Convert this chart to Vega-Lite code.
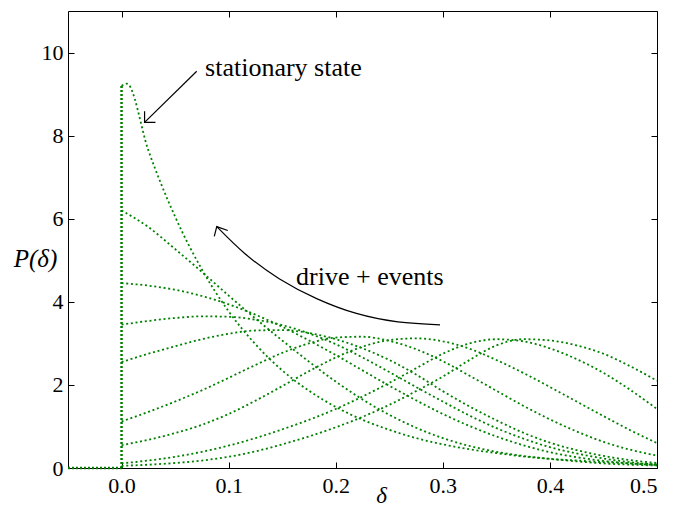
{
  "$schema": "https://vega.github.io/schema/vega-lite/v6.json",
  "width": 589,
  "height": 457,
  "autosize": "none",
  "padding": {"left": 68, "top": 11, "right": 29, "bottom": 40},
  "background": "white",
  "config": {
    "view": {"stroke": "black", "strokeWidth": 1},
    "axis": {
      "labelFont": "Liberation Serif, Times New Roman, DejaVu Serif, serif", "labelFontSize": 22, "labelColor": "black",
      "tickColor": "black", "tickSize": -6, "tickWidth": 1, "domain": false, "grid": false,
      "titleFont": "Liberation Serif, Times New Roman, DejaVu Serif, serif", "titleFontStyle": "italic", "titleFontWeight": "normal",
      "titleFontSize": 25, "titleColor": "black"
    }
  },
  "datasets": {
    "curves": [
      {"c":1,"x":0,"y":9.2},{"c":1,"x":0.005,"y":9.25},{"c":1,"x":0.025,"y":7.65},{"c":1,"x":0.05,"y":6.05},{"c":1,"x":0.075,"y":4.78},{"c":1,"x":0.1,"y":3.77},{"c":1,"x":0.125,"y":2.98},{"c":1,"x":0.15,"y":2.35},{"c":1,"x":0.175,"y":1.86},{"c":1,"x":0.2,"y":1.47},{"c":1,"x":0.225,"y":1.16},{"c":1,"x":0.25,"y":0.92},{"c":1,"x":0.275,"y":0.72},{"c":1,"x":0.3,"y":0.57},{"c":1,"x":0.325,"y":0.45},{"c":1,"x":0.35,"y":0.36},{"c":1,"x":0.375,"y":0.28},{"c":1,"x":0.4,"y":0.22},{"c":1,"x":0.425,"y":0.18},{"c":1,"x":0.45,"y":0.14},{"c":1,"x":0.475,"y":0.11},{"c":1,"x":0.5,"y":0.09},
      {"c":2,"x":0,"y":6.2},{"c":2,"x":0.025,"y":5.8},{"c":2,"x":0.05,"y":5.27},{"c":2,"x":0.075,"y":4.72},{"c":2,"x":0.1,"y":4.15},{"c":2,"x":0.125,"y":3.6},{"c":2,"x":0.15,"y":3.07},{"c":2,"x":0.175,"y":2.56},{"c":2,"x":0.2,"y":2.08},{"c":2,"x":0.225,"y":1.65},{"c":2,"x":0.25,"y":1.28},{"c":2,"x":0.275,"y":0.97},{"c":2,"x":0.3,"y":0.72},{"c":2,"x":0.325,"y":0.53},{"c":2,"x":0.35,"y":0.39},{"c":2,"x":0.375,"y":0.29},{"c":2,"x":0.4,"y":0.22},{"c":2,"x":0.425,"y":0.16},{"c":2,"x":0.45,"y":0.11},{"c":2,"x":0.475,"y":0.08},{"c":2,"x":0.5,"y":0.06},
      {"c":3,"x":0,"y":4.45},{"c":3,"x":0.025,"y":4.39},{"c":3,"x":0.05,"y":4.29},{"c":3,"x":0.075,"y":4.14},{"c":3,"x":0.1,"y":3.94},{"c":3,"x":0.125,"y":3.69},{"c":3,"x":0.15,"y":3.4},{"c":3,"x":0.175,"y":3.07},{"c":3,"x":0.2,"y":2.72},{"c":3,"x":0.225,"y":2.35},{"c":3,"x":0.25,"y":1.98},{"c":3,"x":0.275,"y":1.63},{"c":3,"x":0.3,"y":1.3},{"c":3,"x":0.325,"y":1.01},{"c":3,"x":0.35,"y":0.76},{"c":3,"x":0.375,"y":0.55},{"c":3,"x":0.4,"y":0.38},{"c":3,"x":0.425,"y":0.26},{"c":3,"x":0.45,"y":0.17},{"c":3,"x":0.475,"y":0.11},{"c":3,"x":0.5,"y":0.07},
      {"c":4,"x":0,"y":3.45},{"c":4,"x":0.025,"y":3.54},{"c":4,"x":0.05,"y":3.61},{"c":4,"x":0.075,"y":3.65},{"c":4,"x":0.1,"y":3.64},{"c":4,"x":0.125,"y":3.57},{"c":4,"x":0.15,"y":3.44},{"c":4,"x":0.175,"y":3.24},{"c":4,"x":0.2,"y":2.98},{"c":4,"x":0.225,"y":2.66},{"c":4,"x":0.25,"y":2.31},{"c":4,"x":0.275,"y":1.95},{"c":4,"x":0.3,"y":1.6},{"c":4,"x":0.325,"y":1.26},{"c":4,"x":0.35,"y":0.96},{"c":4,"x":0.375,"y":0.71},{"c":4,"x":0.4,"y":0.5},{"c":4,"x":0.425,"y":0.35},{"c":4,"x":0.45,"y":0.23},{"c":4,"x":0.475,"y":0.14},{"c":4,"x":0.5,"y":0.08},
      {"c":5,"x":0,"y":2.55},{"c":5,"x":0.025,"y":2.75},{"c":5,"x":0.05,"y":2.93},{"c":5,"x":0.075,"y":3.1},{"c":5,"x":0.1,"y":3.23},{"c":5,"x":0.125,"y":3.31},{"c":5,"x":0.15,"y":3.32},{"c":5,"x":0.175,"y":3.25},{"c":5,"x":0.2,"y":3.1},{"c":5,"x":0.225,"y":2.88},{"c":5,"x":0.25,"y":2.6},{"c":5,"x":0.275,"y":2.25},{"c":5,"x":0.3,"y":1.85},{"c":5,"x":0.325,"y":1.48},{"c":5,"x":0.35,"y":1.15},{"c":5,"x":0.375,"y":0.85},{"c":5,"x":0.4,"y":0.61},{"c":5,"x":0.425,"y":0.43},{"c":5,"x":0.45,"y":0.29},{"c":5,"x":0.475,"y":0.19},{"c":5,"x":0.5,"y":0.12},
      {"c":6,"x":0,"y":1.12},{"c":6,"x":0.025,"y":1.35},{"c":6,"x":0.05,"y":1.6},{"c":6,"x":0.075,"y":1.87},{"c":6,"x":0.1,"y":2.17},{"c":6,"x":0.125,"y":2.48},{"c":6,"x":0.15,"y":2.77},{"c":6,"x":0.175,"y":3.0},{"c":6,"x":0.2,"y":3.14},{"c":6,"x":0.225,"y":3.16},{"c":6,"x":0.25,"y":3.06},{"c":6,"x":0.275,"y":2.86},{"c":6,"x":0.3,"y":2.57},{"c":6,"x":0.325,"y":2.22},{"c":6,"x":0.35,"y":1.86},{"c":6,"x":0.375,"y":1.5},{"c":6,"x":0.4,"y":1.17},{"c":6,"x":0.425,"y":0.88},{"c":6,"x":0.45,"y":0.63},{"c":6,"x":0.475,"y":0.44},{"c":6,"x":0.5,"y":0.3},
      {"c":7,"x":0,"y":0.55},{"c":7,"x":0.025,"y":0.68},{"c":7,"x":0.05,"y":0.84},{"c":7,"x":0.075,"y":1.04},{"c":7,"x":0.1,"y":1.3},{"c":7,"x":0.125,"y":1.62},{"c":7,"x":0.15,"y":1.97},{"c":7,"x":0.175,"y":2.33},{"c":7,"x":0.2,"y":2.66},{"c":7,"x":0.225,"y":2.92},{"c":7,"x":0.25,"y":3.08},{"c":7,"x":0.275,"y":3.12},{"c":7,"x":0.3,"y":3.05},{"c":7,"x":0.325,"y":2.87},{"c":7,"x":0.35,"y":2.6},{"c":7,"x":0.375,"y":2.29},{"c":7,"x":0.4,"y":1.95},{"c":7,"x":0.425,"y":1.6},{"c":7,"x":0.45,"y":1.25},{"c":7,"x":0.475,"y":0.91},{"c":7,"x":0.5,"y":0.6},
      {"c":8,"x":0,"y":0.11},{"c":8,"x":0.025,"y":0.18},{"c":8,"x":0.05,"y":0.27},{"c":8,"x":0.075,"y":0.39},{"c":8,"x":0.1,"y":0.54},{"c":8,"x":0.125,"y":0.72},{"c":8,"x":0.15,"y":0.93},{"c":8,"x":0.175,"y":1.16},{"c":8,"x":0.2,"y":1.42},{"c":8,"x":0.225,"y":1.72},{"c":8,"x":0.25,"y":2.05},{"c":8,"x":0.275,"y":2.4},{"c":8,"x":0.3,"y":2.75},{"c":8,"x":0.325,"y":3.0},{"c":8,"x":0.35,"y":3.1},{"c":8,"x":0.375,"y":3.05},{"c":8,"x":0.4,"y":2.88},{"c":8,"x":0.425,"y":2.62},{"c":8,"x":0.45,"y":2.29},{"c":8,"x":0.475,"y":1.88},{"c":8,"x":0.5,"y":1.42},
      {"c":9,"x":0,"y":0.05},{"c":9,"x":0.025,"y":0.08},{"c":9,"x":0.05,"y":0.12},{"c":9,"x":0.075,"y":0.18},{"c":9,"x":0.1,"y":0.27},{"c":9,"x":0.125,"y":0.4},{"c":9,"x":0.15,"y":0.57},{"c":9,"x":0.175,"y":0.76},{"c":9,"x":0.2,"y":0.98},{"c":9,"x":0.225,"y":1.23},{"c":9,"x":0.25,"y":1.52},{"c":9,"x":0.275,"y":1.85},{"c":9,"x":0.3,"y":2.2},{"c":9,"x":0.325,"y":2.6},{"c":9,"x":0.35,"y":2.95},{"c":9,"x":0.375,"y":3.1},{"c":9,"x":0.4,"y":3.07},{"c":9,"x":0.425,"y":2.95},{"c":9,"x":0.45,"y":2.75},{"c":9,"x":0.475,"y":2.45},{"c":9,"x":0.5,"y":2.1}
    ],
    "segs": [
      {"x1": -0.05, "x2": 0, "y1": 0, "y2": 0},
      {"x1": 0, "x2": 0, "y1": 0, "y2": 9.2}
    ],
    "arc": [
      {"o": 1, "x": 0.2974, "y": 3.446},
      {"o": 2, "x": 0.258, "y": 3.518},
      {"o": 3, "x": 0.2193, "y": 3.72},
      {"o": 4, "x": 0.1822, "y": 4.077},
      {"o": 5, "x": 0.1472, "y": 4.557},
      {"o": 6, "x": 0.1153, "y": 5.157},
      {"o": 7, "x": 0.0889, "y": 5.81}
    ],
    "arrows": [
      {"id": "a1", "o": 1, "x": 0.0702, "y": 9.55},
      {"id": "a1", "o": 2, "x": 0.0215, "y": 8.32},
      {"id": "a1h", "o": 1, "x": 0.0215, "y": 8.585},
      {"id": "a1h", "o": 2, "x": 0.0215, "y": 8.32},
      {"id": "a1h", "o": 3, "x": 0.0317, "y": 8.32},
      {"id": "a2h", "o": 1, "x": 0.0866, "y": 5.573},
      {"id": "a2h", "o": 2, "x": 0.0889, "y": 5.81},
      {"id": "a2h", "o": 3, "x": 0.0992, "y": 5.718}
    ],
    "labels": [
      {"x": 0.078, "y": 9.64, "t": "stationary state"},
      {"x": 0.163, "y": 4.6, "t": "drive + events"}
    ]
  },
  "layer": [
    {
      "data": {"name": "curves"},
      "mark": {"type": "line", "color": "#008000", "strokeWidth": 1.8, "strokeDash": [2, 2.7], "interpolate": "monotone", "clip": true},
      "encoding": {
        "x": {"field": "x", "type": "quantitative", "scale": {"domain": [-0.05, 0.5], "nice": false, "zero": false},
              "axis": {"values": [0, 0.1, 0.2, 0.3, 0.4, 0.5], "format": ".1f", "labelPadding": 13, "title": "δ", "titleX": 313, "titleY": 27, "titleBaseline": "middle", "titleFontSize": 23}},
        "y": {"field": "y", "type": "quantitative", "scale": {"domain": [0, 11], "nice": false},
              "axis": {"values": [0, 2, 4, 6, 8, 10], "format": "d", "labelPadding": 11, "title": "P(δ)", "titleAngle": 0, "titleX": -33, "titleY": 247, "titleAlign": "center", "titleBaseline": "middle"}},
        "detail": {"field": "c", "type": "nominal"}
      }
    },
    {
      "data": {"name": "segs"},
      "mark": {"type": "rule", "color": "#008000", "strokeWidth": 2.5, "strokeDash": [2, 2]},
      "encoding": {
        "x": {"field": "x1", "type": "quantitative", "scale": {"domain": [-0.05, 0.5], "nice": false, "zero": false}, "axis": null},
        "x2": {"field": "x2"},
        "y": {"field": "y1", "type": "quantitative", "scale": {"domain": [0, 11], "nice": false}, "axis": null},
        "y2": {"field": "y2"}
      }
    },
    {
      "data": {"name": "arc"},
      "mark": {"type": "line", "color": "black", "strokeWidth": 1.2, "interpolate": "natural"},
      "encoding": {
        "x": {"field": "x", "type": "quantitative", "scale": {"domain": [-0.05, 0.5], "nice": false, "zero": false}, "axis": null},
        "y": {"field": "y", "type": "quantitative", "scale": {"domain": [0, 11], "nice": false}, "axis": null},
        "order": {"field": "o", "type": "quantitative"}
      }
    },
    {
      "data": {"name": "arrows"},
      "mark": {"type": "line", "color": "black", "strokeWidth": 1.2, "interpolate": "linear"},
      "encoding": {
        "x": {"field": "x", "type": "quantitative", "scale": {"domain": [-0.05, 0.5], "nice": false, "zero": false}, "axis": null},
        "y": {"field": "y", "type": "quantitative", "scale": {"domain": [0, 11], "nice": false}, "axis": null},
        "detail": {"field": "id", "type": "nominal"},
        "order": {"field": "o", "type": "quantitative"}
      }
    },
    {
      "data": {"name": "labels"},
      "mark": {"type": "text", "align": "left", "baseline": "middle", "font": "Liberation Serif, Times New Roman, DejaVu Serif, serif", "fontSize": 26, "color": "black"},
      "encoding": {
        "x": {"field": "x", "type": "quantitative", "scale": {"domain": [-0.05, 0.5], "nice": false, "zero": false}, "axis": null},
        "y": {"field": "y", "type": "quantitative", "scale": {"domain": [0, 11], "nice": false}, "axis": null},
        "text": {"field": "t"}
      }
    },
    {
      "data": {"name": "segs"},
      "mark": {"type": "point", "opacity": 0},
      "encoding": {
        "x": {"field": "x1", "type": "quantitative", "scale": {"domain": [-0.05, 0.5], "nice": false, "zero": false},
              "axis": {"orient": "top", "values": [0, 0.1, 0.2, 0.3, 0.4, 0.5], "labels": false, "title": null}},
        "y": {"field": "y1", "type": "quantitative", "scale": {"domain": [0, 11], "nice": false},
              "axis": {"orient": "right", "values": [0, 2, 4, 6, 8, 10], "labels": false, "title": null}}
      }
    }
  ],
  "resolve": {"axis": {"x": "independent", "y": "independent"}}
}
